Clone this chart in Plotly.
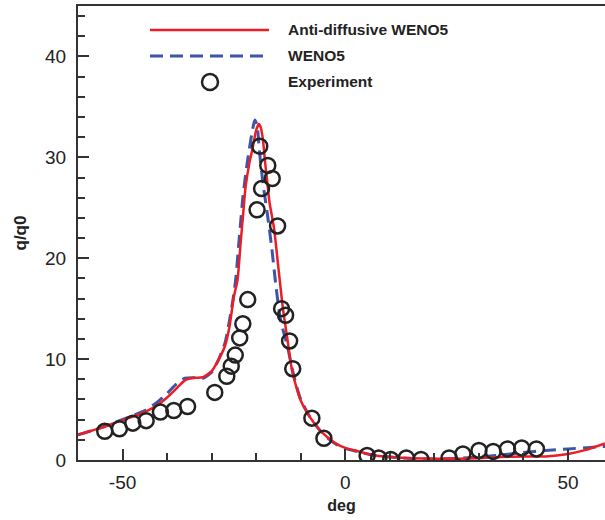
import plotly.graph_objects as go

# ---- data ----
anti_x = [-60, -57, -54, -51, -48, -45, -42, -40, -38, -36, -34, -32, -30, -28.5, -27, -26,
          -25, -24.2, -23.5, -23, -22.4, -21.5, -20.9, -20, -19.4, -19, -18.5, -18, -17.5, -17,
          -16, -15, -14, -13, -12, -11, -10, -8, -6, -4, -2, 0, 3, 6, 10, 15, 20, 25, 30, 35,
          40, 45, 50, 54, 58.3]
anti_y = [2.5, 2.9, 3.3, 3.8, 4.25, 4.75, 5.5, 6.2, 7.05, 7.9, 8.15, 8.2, 8.8, 9.9, 11.3, 13.2,
          16.2, 17.8, 21.5, 24.0, 27.0, 29.5, 30.7, 32.7, 33.3, 33.0, 31.8, 29.5, 27.5, 25.5,
          23.0, 19.0, 15.0, 12.0, 9.0, 7.25, 5.9, 4.3, 3.1, 2.25, 1.6, 1.2, 0.85, 0.5, 0.3, 0.18,
          0.12, 0.12, 0.18, 0.3, 0.35, 0.35, 0.6, 1.0, 1.65]

weno_x = [-60, -57, -54, -51, -48, -45, -42, -40, -38, -36, -34, -32, -30, -28.5, -27, -26,
          -25, -24.5, -24, -23.5, -23, -22, -21, -20.3, -19.8, -19.3, -18.5, -17.5, -16.5,
          -15.5, -14.5, -13, -12, -11, -10, -8, -6, -4, -2, 0, 3, 6, 10, 15, 20, 25, 30, 35,
          40, 45, 50, 55, 58.3]
weno_y = [2.5, 2.9, 3.35, 3.85, 4.35, 4.9, 5.8, 6.6, 7.5, 8.1, 8.15, 8.1, 8.7, 9.9, 11.6, 13.8,
          16.5, 18.3, 21.0, 23.5, 26.0, 29.5, 32.3, 33.7, 33.2, 30.7, 27.5, 24.4, 21.0, 17.0,
          13.8, 11.3, 9.2, 7.4, 6.0, 4.3, 3.1, 2.2, 1.55, 1.15, 0.8, 0.5, 0.3, 0.15, 0.1, 0.15,
          0.3, 0.5, 0.75, 0.95, 1.1, 1.25, 1.35]

exp_x = [-54.0, -50.7, -47.7, -44.7, -41.5, -38.5, -35.4, -29.3, -26.6, -25.6, -24.7, -23.7,
         -23.0, -21.9, -19.8, -18.8, -19.2, -17.4, -16.4, -15.2, -14.3, -13.4, -12.5, -11.8,
         -7.5, -4.8, 4.9, 7.5, 10.2, 13.7, 17.0, 23.3, 26.4, 30.0, 33.2, 36.4, 39.6, 42.9]
exp_y = [2.85, 3.1, 3.65, 3.9, 4.75, 4.9, 5.3, 6.7, 8.3, 9.3, 10.4, 12.1, 13.5, 15.9, 24.8,
         26.9, 31.1, 29.2, 27.9, 23.2, 15.0, 14.35, 11.8, 9.05, 4.15, 2.15, 0.45, 0.2, 0.05,
         0.2, 0.05, 0.2, 0.6, 0.95, 0.85, 1.1, 1.2, 1.1]

x_ticks = [-50, 0, 50]
x_tick_text = ["-50", "0", "50"]
y_ticks = [0, 10, 20, 30, 40]
y_tick_text = ["0", "10", "20", "30", "40"]
legend_labels = ["Anti-diffusive WENO5", "WENO5", "Experiment"]

RED = "#ee1c25"
BLUE = "#3d55a6"
INK = "#222222"
FONT = "Liberation Sans, Arial, sans-serif"

fig = go.Figure()
fig.add_trace(go.Scatter(x=weno_x, y=weno_y, mode="lines", name=legend_labels[1],
                         line=dict(color=BLUE, width=3, dash="13px,7px", shape="spline", smoothing=0.6)))
fig.add_trace(go.Scatter(x=anti_x, y=anti_y, mode="lines", name=legend_labels[0],
                         line=dict(color=RED, width=2.5, shape="spline", smoothing=0.6)))
fig.add_trace(go.Scatter(x=exp_x, y=exp_y, mode="markers", name=legend_labels[2],
                         marker=dict(symbol="circle-open", size=15, color=INK,
                                     line=dict(width=2.5, color=INK))))

# manual legend (paper coordinates)
L, R, T, B = 78, 605, 6, 460
def px(xp):
    return (xp - L) / (R - L)
def py(yp):
    return (B - yp) / (B - T)

shapes = [
    dict(type="line", xref="paper", yref="paper", x0=px(150), x1=px(269), y0=py(30), y1=py(30),
         line=dict(color=RED, width=2.5)),
    dict(type="line", xref="paper", yref="paper", x0=px(150), x1=px(269), y0=py(56), y1=py(56),
         line=dict(color=BLUE, width=3, dash="13px,7px")),
    dict(type="circle", xref="paper", yref="paper", xsizemode="pixel", ysizemode="pixel",
         xanchor=px(210), yanchor=py(82), x0=-8, x1=8, y0=-8, y1=8,
         line=dict(color=INK, width=2.5)),
]
annotations = []
for lab, yp in zip(legend_labels, [30, 56, 82]):
    annotations.append(dict(text="<b>%s</b>" % lab, xref="paper", yref="paper", x=px(286), y=py(yp),
                            xanchor="left", yanchor="middle", showarrow=False,
                            font=dict(family=FONT, size=15.5, color=INK)))

fig.update_layout(
    width=605, height=520,
    margin=dict(l=L, r=605 - R, t=T, b=520 - B),
    paper_bgcolor="white", plot_bgcolor="white",
    showlegend=False,
    shapes=shapes, annotations=annotations,
    font=dict(family=FONT, color=INK),
)
fig.update_xaxes(range=[-60, 58.3], tickvals=x_ticks, ticktext=x_tick_text, ticks="inside",
                 ticklen=11, tickwidth=1.5, ticklabelstandoff=4,
                 tickcolor="#333", showline=True, linecolor="#333", linewidth=2, mirror=True,
                 showgrid=False, zeroline=False,
                 minor=dict(dtick=10, tick0=0, ticks="inside", ticklen=7, tickwidth=1.5, tickcolor="#333"),
                 tickfont=dict(size=19, color=INK, family=FONT),
                 title=dict(text="<b>deg</b>", font=dict(size=16, color=INK, family=FONT), standoff=8))
fig.update_yaxes(range=[0, 45], tickvals=y_ticks, ticktext=y_tick_text, ticks="inside",
                 ticklen=11, tickwidth=1.5, ticklabelstandoff=6,
                 tickcolor="#333", showline=True, linecolor="#333", linewidth=2, mirror=False,
                 showgrid=False, zeroline=False,
                 minor=dict(dtick=2, tick0=0, ticks="inside", ticklen=7, tickwidth=1.5, tickcolor="#333"),
                 tickfont=dict(size=19, color=INK, family=FONT),
                 title=dict(text="<b>q/q0</b>", font=dict(size=17, color=INK, family=FONT), standoff=14))

fig.write_html("out.html")
